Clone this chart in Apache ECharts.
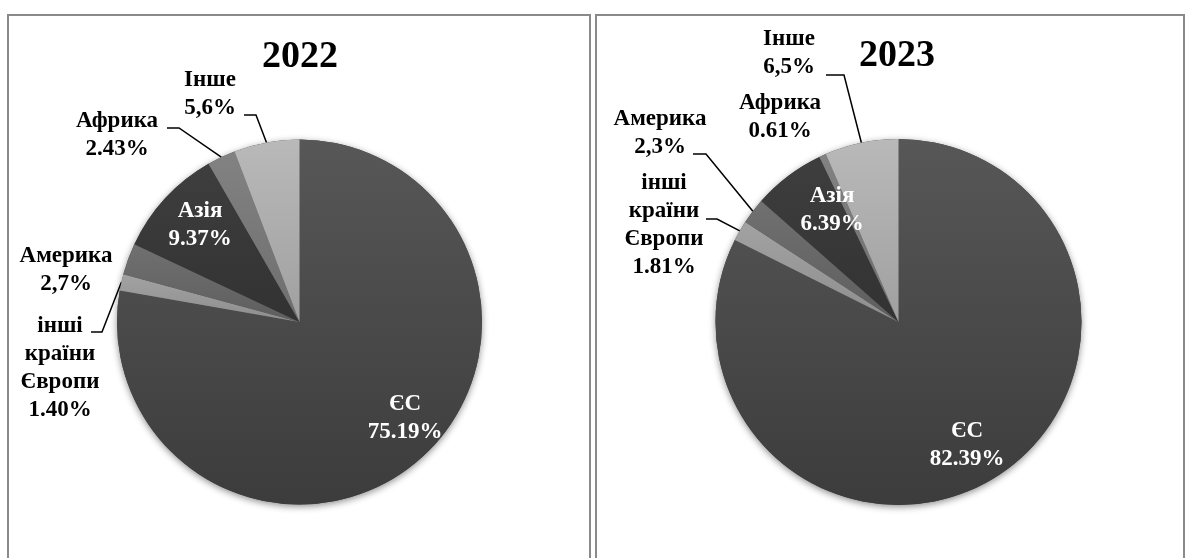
<!DOCTYPE html>
<html>
<head>
<meta charset="utf-8">
<script src="https://cdn.jsdelivr.net/npm/echarts@6/dist/echarts.min.js"></script>
<style>
  html, body { margin: 0; padding: 0; background: #ffffff; }
  #chart { width: 1192px; height: 558px; }
</style>
</head>
<body>
<div id="chart"></div>
<script>
// Regions of destination, in clockwise order from 12 o'clock
const categories = ['ЄС', 'інші країни Європи', 'Америка', 'Азія', 'Африка', 'Інше'];
// Shares per year, written as they are printed on the labels
const shares2022 = ['75.19', '1.40', '2,7', '9.37', '2.43', '5,6'];
const shares2023 = ['82.39', '1.81', '2,3', '6.39', '0.61', '6,5'];
const years = ['2022', '2023'];

// ---- styling / layout ----
const FONT = "'Liberation Serif', 'Times New Roman', serif";
const sliceShades = [
  ['#575757', '#3c3c3c'],   // ЄС
  ['#a2a2a2', '#8e8e8e'],   // інші країни Європи
  ['#707070', '#5e5e5e'],   // Америка
  ['#3e3e3e', '#323232'],   // Азія
  ['#828282', '#6e6e6e'],   // Африка
  ['#b9b9b9', '#a0a0a0']    // Інше
];
const insideLabel = [true, false, false, true, false, false];
const pies = [
  { center: [299.5, 322], radius: 182.5, title: [300, 57] },
  { center: [898.5, 322], radius: 183, title: [897, 56] }
];
// label block centres and leader-line bends (label side), per year and category
const labelSpots = [
  [
    { at: [405, 418] },
    { at: [60, 368], bend: [[102, 332], [91, 332]] },
    { at: [66, 270] },
    { at: [200, 225] },
    { at: [117, 135], bend: [[179, 128], [167, 128]] },
    { at: [210, 94], bend: [[256, 115], [244, 115]] }
  ],
  [
    { at: [967, 445] },
    { at: [664, 225], bend: [[717, 219], [706, 219]] },
    { at: [660, 133], bend: [[706, 154], [693, 154]] },
    { at: [832, 210] },
    { at: [780, 117] },
    { at: [789, 53], bend: [[844, 75], [826, 75]] }
  ]
];

const toNumber = s => parseFloat(s.replace(',', '.'));
const allShares = [shares2022, shares2023];

// point on the rim at the middle angle of slice i
function rimPoint(values, i, pie) {
  const total = values.reduce((a, b) => a + b, 0);
  let before = 0;
  for (let k = 0; k < i; k++) before += values[k];
  const mid = (before + values[i] / 2) / total * Math.PI * 2;
  return [pie.center[0] + pie.radius * Math.sin(mid), pie.center[1] - pie.radius * Math.cos(mid)];
}

const series = [];
allShares.forEach((shares, yi) => {
  const values = shares.map(toNumber);
  const pie = pies[yi];
  const data = categories.map((name, i) => ({
    name: name,
    value: values[i],
    itemStyle: {
      color: {
        type: 'linear', x: 0, y: 0, x2: 0, y2: 1,
        colorStops: [
          { offset: 0, color: sliceShades[i][0] },
          { offset: 1, color: sliceShades[i][1] }
        ]
      }
    },
    label: {
      color: insideLabel[i] ? '#ffffff' : '#000000',
      formatter: () => name.split(' ').join('\n') + '\n' + shares[i] + '%'
    },
    labelLine: { show: !!labelSpots[yi][i].bend }
  }));

  // soft drop shadow under the pie
  series.push({
    type: 'pie',
    silent: true,
    z: 1,
    center: pie.center,
    radius: pie.radius,
    startAngle: 90,
    clockwise: true,
    label: { show: false },
    labelLine: { show: false },
    itemStyle: {
      color: '#444444',
      shadowBlur: 7,
      shadowColor: 'rgba(0,0,0,0.45)',
      shadowOffsetY: 2
    },
    data: values.map(v => ({ value: v }))
  });

  series.push({
    type: 'pie',
    name: years[yi],
    z: 2,
    center: pie.center,
    radius: pie.radius,
    startAngle: 90,
    clockwise: true,
    avoidLabelOverlap: false,
    itemStyle: { borderWidth: 0 },
    label: {
      show: true,
      position: 'outside',
      fontFamily: FONT,
      fontWeight: 'bold',
      fontSize: 23,
      lineHeight: 28,
      align: 'center'
    },
    labelLine: {
      show: true,
      lineStyle: { color: '#000000', width: 1.5 }
    },
    labelLayout: params => {
      const spot = labelSpots[yi][params.dataIndex];
      const out = { x: spot.at[0], y: spot.at[1], align: 'center', verticalAlign: 'middle' };
      if (spot.bend) {
        out.labelLinePoints = [rimPoint(values, params.dataIndex, pie), spot.bend[0], spot.bend[1]];
      }
      return out;
    },
    emphasis: { disabled: true },
    data: data
  });
});

const graphic = [
  { type: 'rect', z: 0, shape: { x: 8, y: 15, width: 582, height: 600 },
    style: { fill: 'none', stroke: '#8a8a8a', lineWidth: 2 } },
  { type: 'rect', z: 0, shape: { x: 596, y: 15, width: 588, height: 600 },
    style: { fill: 'none', stroke: '#8a8a8a', lineWidth: 2 } }
];
years.forEach((y, yi) => {
  graphic.push({
    type: 'text', z: 10,
    x: pies[yi].title[0], y: pies[yi].title[1],
    style: {
      text: y, fill: '#000000',
      font: 'bold 38px ' + FONT,
      align: 'center', verticalAlign: 'middle'
    }
  });
});

const chart = echarts.init(document.getElementById('chart'), null, { renderer: 'canvas' });
chart.setOption({
  backgroundColor: '#ffffff',
  animation: false,
  graphic: graphic,
  series: series
});
</script>
</body>
</html>
